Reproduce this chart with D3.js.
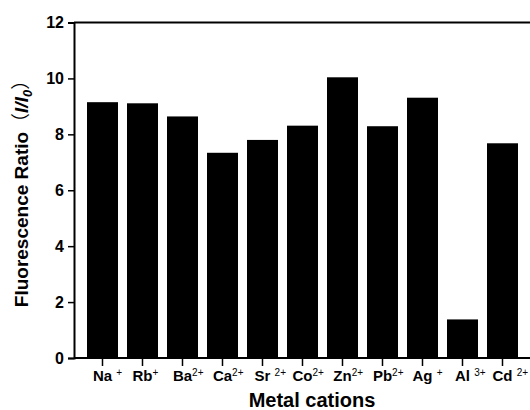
<!DOCTYPE html>
<html>
<head>
<meta charset="utf-8">
<script src="https://cdn.jsdelivr.net/npm/d3@7"></script>
<style>
  body { margin: 0; background: #fff; }
  svg { display: block; font-family: "Liberation Sans", Arial, sans-serif; }
</style>
</head>
<body>
<div id="wrapper"></div>
<script>
// data
const ions = ["Na", "Rb", "Ba", "Ca", "Sr", "Co", "Zn", "Pb", "Ag", "Al", "Cd"]
const charges = ["+", "+", "2+", "2+", "2+", "2+", "2+", "2+", "+", "3+", "2+"]
const gaps = [" ", "", "", "", " ", "", "", "", " ", " ", " "]
const ratios = [9.15, 9.11, 8.64, 7.34, 7.8, 8.31, 10.04, 8.29, 9.31, 1.38, 7.68]
const yTicks = [0, 2, 4, 6, 8, 10, 12]

const width = 530
const height = 410
const margins = { top: 22, left: 74, bottom: 52 }

const svg = d3.select("#wrapper").append("svg")
  .attr("width", width)
  .attr("height", height)

const xScale = d3.scaleBand()
  .domain(ions)
  .range([margins.left, 531])
  .paddingInner(0.225)
  .paddingOuter(0.325)

const yScale = d3.scaleLinear()
  .domain([0, 12])
  .range([358, 22.5])

// bars
svg.append("g")
  .selectAll("rect")
  .data(ratios)
  .join("rect")
  .attr("x", (d, i) => xScale(ions[i]))
  .attr("y", d => yScale(d))
  .attr("width", xScale.bandwidth())
  .attr("height", d => yScale(0) - yScale(d))
  .attr("fill", "#000")

// y axis
const yAxis = svg.append("g")
  .attr("transform", `translate(${margins.left},0)`)
  .call(d3.axisLeft(yScale).tickValues(yTicks).tickSize(6).tickPadding(4).tickFormat(d3.format("d")))
yAxis.select(".domain").attr("stroke-width", 2)
yAxis.selectAll(".tick line").attr("stroke-width", 1.5)
yAxis.selectAll(".tick text")
  .attr("font-size", 16)
  .attr("font-weight", "bold")
  .attr("fill", "#000")
  .attr("font-family", "Liberation Sans, Arial, sans-serif")

// top frame line
svg.append("line")
  .attr("x1", margins.left).attr("x2", width)
  .attr("y1", yScale(12)).attr("y2", yScale(12))
  .attr("stroke", "#000").attr("stroke-width", 2)

// bottom axis
const xAxis = svg.append("g")
  .attr("transform", `translate(0,${yScale(0)})`)
  .call(d3.axisBottom(xScale).tickSize(8).tickFormat(""))
xAxis.select(".domain").attr("stroke-width", 2).attr("d", `M${margins.left},0H${width}`)
xAxis.selectAll(".tick line").attr("stroke-width", 1.5)

// category labels: element symbol centred on the tick, charge as superscript after it
const labels = svg.append("g")
  .selectAll("text")
  .data(ions)
  .join("text")
  .attr("y", 381)
  .attr("font-size", 15)
  .attr("font-weight", "bold")
  .attr("fill", "#000")

const base = labels.append("tspan").text((d, i) => ions[i])
labels.append("tspan").text((d, i) => gaps[i])
labels.append("tspan")
  .attr("font-size", 10)
  .attr("font-weight", "normal")
  .attr("dy", -5)
  .text((d, i) => charges[i])
labels.attr("x", function (d, i) {
  const w = base.nodes()[i].getComputedTextLength()
  return xScale(d) + xScale.bandwidth() / 2 - w / 2
})

// axis titles
svg.append("text")
  .attr("x", 312)
  .attr("y", 407)
  .attr("text-anchor", "middle")
  .attr("font-size", 20)
  .attr("font-weight", "bold")
  .text("Metal cations")

const yTitle = svg.append("text")
  .attr("transform", `translate(28,189) rotate(-90)`)
  .attr("text-anchor", "middle")
  .attr("font-size", 19)
  .attr("font-weight", "bold")
yTitle.append("tspan").text("Fluorescence Ratio")
yTitle.append("tspan").attr("font-weight", "normal").attr("font-family", "Noto Sans CJK SC").text("\uFF08")
yTitle.append("tspan").attr("font-style", "italic").text("I/I")
yTitle.append("tspan").attr("font-style", "italic").attr("font-size", 13).attr("dy", 4).text("0")
yTitle.append("tspan").attr("dy", -4).attr("font-weight", "normal").attr("font-family", "Noto Sans CJK SC").text("\uFF09")
</script>
</body>
</html>
